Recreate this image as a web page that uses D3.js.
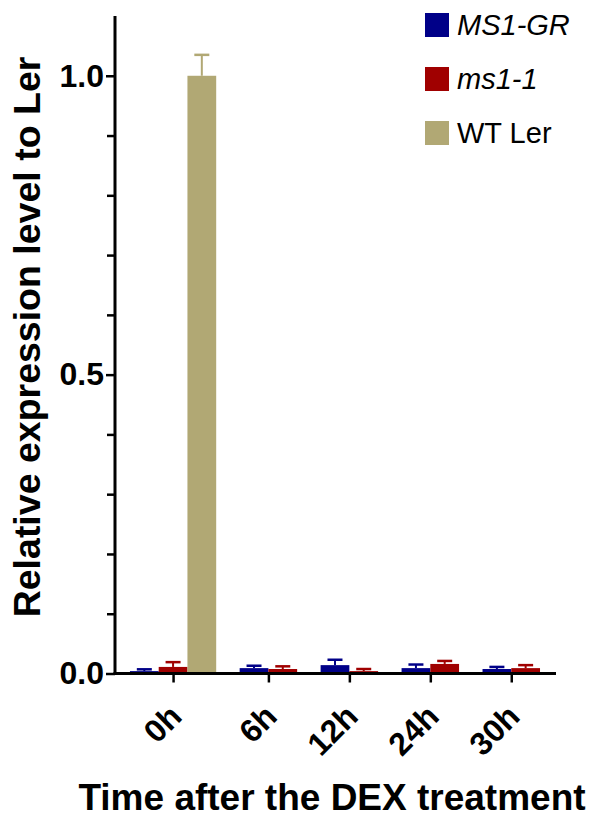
<!DOCTYPE html>
<html>
<head>
<meta charset="utf-8">
<script src="https://cdn.jsdelivr.net/npm/d3@7"></script>
<style>
  html, body { margin: 0; padding: 0; background: #fff; }
  svg { display: block; }
  text { font-family: "Liberation Sans", Arial, sans-serif; }
</style>
</head>
<body>
<svg id="chart" width="600" height="819"></svg>
<script>
// ---- data ----
const timepoints = ["0h", "6h", "12h", "24h", "30h"];
const seriesNames = ["MS1-GR", "ms1-1", "WT Ler"];
const seriesItalic = [true, true, false];
const seriesColors = ["#000088", "#A00000", "#B1A874"];
const ms1GR    = [0.004, 0.009, 0.014, 0.009, 0.0075];
const ms1GRErr = [0.003, 0.004, 0.009, 0.006, 0.0035];
const ms11     = [0.011, 0.0075, 0.004, 0.016, 0.009];
const ms11Err  = [0.008, 0.0045, 0.0035, 0.005, 0.005];
const wtLer    = [1.0, null, null, null, null];
const wtLerErr = [0.035, null, null, null, null];
const yMajorTicks = [0, 0.5, 1.0];
const yMinorTicks = [0.1, 0.2, 0.3, 0.4, 0.6, 0.7, 0.8, 0.9];
const yMax = 1.1;
const xTitle = "Time after the DEX treatment";
const yTitle = "Relative expression level to Ler";

// ---- layout ----
const svg = d3.select("#chart");
const x0 = 115, x1 = 556, yBase = 673.5, yTop = 16;
const font = '"Liberation Sans", Arial, sans-serif';

const values = [ms1GR, ms11, wtLer];
const errs = [ms1GRErr, ms11Err, wtLerErr];

// unit layout: bar = 1 unit, gap between groups, pads at ends
const padStart = 0.52, gapU = 0.816, padEnd = 0.556;
const bars = [];
const groupCenters = [];
let pos = padStart;
timepoints.forEach((t, gi) => {
  const start = pos;
  values.forEach((vals, si) => {
    if (vals[gi] !== null && vals[gi] !== undefined) {
      bars.push({ group: t, series: si, value: vals[gi], err: errs[si][gi], u0: pos, u1: pos + 1 });
      pos += 1;
    }
  });
  groupCenters.push({ t, c: (start + pos) / 2 });
  if (gi < timepoints.length - 1) pos += gapU;
});
const totalU = pos + padEnd;

const x = d3.scaleLinear().domain([0, totalU]).range([x0, x1]);
const y = d3.scaleLinear().domain([0, yMax]).range([yBase, yTop]);

// bars
svg.append("g").selectAll("rect").data(bars).join("rect")
  .attr("x", d => x(d.u0))
  .attr("width", d => x(d.u1) - x(d.u0))
  .attr("y", d => y(d.value))
  .attr("height", d => y(0) - y(d.value))
  .attr("fill", d => seriesColors[d.series]);

// error bars (upper only)
const capHalf = 7.5;
const eb = svg.append("g");
bars.forEach(d => {
  const cx = (x(d.u0) + x(d.u1)) / 2;
  const col = seriesColors[d.series];
  eb.append("line").attr("x1", cx).attr("x2", cx)
    .attr("y1", y(d.value)).attr("y2", y(d.value + d.err))
    .attr("stroke", col).attr("stroke-width", 2);
  eb.append("line").attr("x1", cx - capHalf).attr("x2", cx + capHalf)
    .attr("y1", y(d.value + d.err)).attr("y2", y(d.value + d.err))
    .attr("stroke", col).attr("stroke-width", 2.5);
});

// y axis
const yAxisG = svg.append("g").attr("transform", `translate(${x0},0)`);
yAxisG.call(d3.axisLeft(y).tickValues(yMajorTicks).tickFormat(d3.format(".1f")).tickSize(9).tickPadding(2).tickSizeOuter(0));
const yMinorG = svg.append("g").attr("transform", `translate(${x0},0)`);
yMinorG.call(d3.axisLeft(y).tickValues(yMinorTicks).tickFormat("").tickSize(8).tickSizeOuter(0));
[yAxisG, yMinorG].forEach(g => {
  g.select(".domain").remove();
  g.selectAll(".tick line").attr("stroke", "#000").attr("stroke-width", 2.5);
});
yAxisG.selectAll(".tick text")
  .attr("font-family", font).attr("font-weight", "bold").attr("font-size", 32).attr("fill", "#000");
svg.append("line").attr("x1", x0).attr("x2", x0).attr("y1", y(yMax)).attr("y2", yBase + 1.5)
  .attr("stroke", "#000").attr("stroke-width", 3);

// x axis
const xAxisG = svg.append("g").attr("transform", `translate(0,${yBase})`);
xAxisG.call(d3.axisBottom(d3.scaleOrdinal().domain(timepoints).range(groupCenters.map(g => x(g.c))))
  .tickSize(9).tickSizeOuter(0));
xAxisG.select(".domain").remove();
xAxisG.selectAll(".tick line").attr("stroke", "#000").attr("stroke-width", 2.5);
xAxisG.selectAll(".tick text")
  .attr("font-family", font).attr("font-weight", "bold").attr("font-size", 32).attr("fill", "#000")
  .attr("text-anchor", "end")
  .attr("y", 0).attr("dy", "0.35em")
  .attr("transform", "translate(2,37) rotate(-45)");
svg.append("line").attr("x1", x0 - 1.5).attr("x2", x1).attr("y1", yBase).attr("y2", yBase)
  .attr("stroke", "#000").attr("stroke-width", 3);

// titles
svg.append("text").attr("x", 332).attr("y", 810).attr("text-anchor", "middle")
  .attr("font-family", font).attr("font-weight", "bold").attr("font-size", 37).text(xTitle);
svg.append("text").attr("transform", `translate(40,337) rotate(-90)`).attr("text-anchor", "middle")
  .attr("font-family", font).attr("font-weight", "bold").attr("font-size", 37.5).text(yTitle);

// legend
const leg = svg.append("g");
seriesNames.forEach((name, i) => {
  const yy = 13 + i * 54;
  leg.append("rect").attr("x", 425).attr("y", yy).attr("width", 24).attr("height", 24).attr("fill", seriesColors[i]);
  leg.append("text").attr("x", 457).attr("y", yy + 22)
    .attr("font-family", font).attr("font-size", 29)
    .attr("font-style", seriesItalic[i] ? "italic" : "normal").text(name);
});
</script>
</body>
</html>
